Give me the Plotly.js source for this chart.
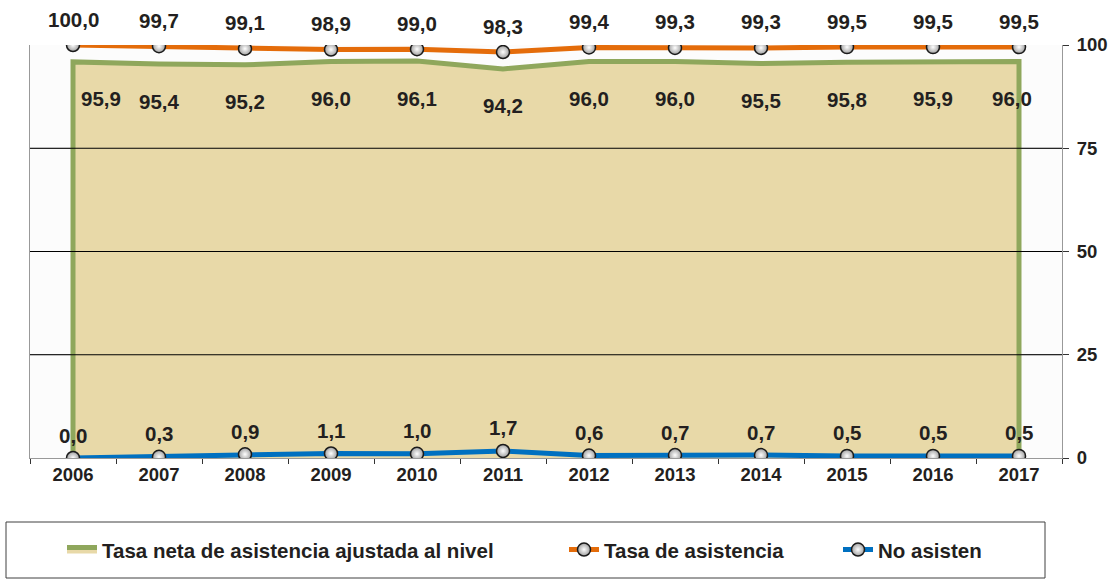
<!DOCTYPE html>
<html><head><meta charset="utf-8">
<script src="https://cdn.plot.ly/plotly-3.0.1.min.js"></script>
<style>html,body{margin:0;padding:0;background:#fff;}#chart{width:1114px;height:582px;}</style>
</head><body><div id="chart"></div>
<script>
const years = ['2006','2007','2008','2009','2010','2011','2012','2013','2014','2015','2016','2017'];
const tasaNeta = [95.9,95.4,95.2,96.0,96.1,94.2,96.0,96.0,95.5,95.8,95.9,96.0];
const tasaAsistencia = [100.0,99.7,99.1,98.9,99.0,98.3,99.4,99.3,99.3,99.5,99.5,99.5];
const noAsisten = [0.0,0.3,0.9,1.1,1.0,1.7,0.6,0.7,0.7,0.5,0.5,0.5];
const yTicks = [0,25,50,75,100];

const fmt = v => v.toFixed(1).replace('.', ',');
const FONT = 'Liberation Sans, Arial, sans-serif';
const TXT = '#231F20';

const areaX = [years[0]].concat(years, [years[years.length-1]]);
const areaY = [0].concat(tasaNeta, [0]);

const markerStyle = {size:13, color:'#a0a0a0', gradient:{type:'radial', color:'#ffffff'}, line:{color:'#1a1a1a', width:1.5}};

const traces = [
  {x: areaX, y: areaY, type:'scatter', mode:'lines', fill:'toself', fillcolor:'#E8D9A8',
   line:{color:'#8FA75C', width:5}, name:'Tasa neta de asistencia ajustada al nivel', legend:'legend', hoverinfo:'skip'},
  {x: years, y: tasaAsistencia, type:'scatter', mode:'lines+markers', line:{color:'#E46C0A', width:5},
   marker: markerStyle, name:'Tasa de asistencia', legend:'legend2'},
  {x: years, y: noAsisten, type:'scatter', mode:'lines+markers', line:{color:'#0070C0', width:5},
   marker: markerStyle, name:'No asisten', legend:'legend3'}
];

const annotations = [];
const lab = (xi, y, t, xs, ys) => ({x: xi, y: y, text:'<b>'+t+'</b>', xref:'x', yref:'y', showarrow:false, xshift:xs, yshift:ys,
  font:{family:FONT, size:20.5, color:TXT}});
years.forEach((yr, i) => {
  annotations.push(lab(i, tasaAsistencia[i], fmt(tasaAsistencia[i]), 0, 26));
  annotations.push(lab(i, noAsisten[i], fmt(noAsisten[i]), 0, 23));
  let xs = 0;
  if (i === 0) xs = 28;
  if (i === years.length-1) xs = -7;
  annotations.push(lab(i, tasaNeta[i], fmt(tasaNeta[i]), xs, -37));
});

const legendBase = {orientation:'h', xanchor:'left', yanchor:'middle', y:-0.222, bgcolor:'rgba(0,0,0,0)',
  font:{family:FONT, size:20.5, color:TXT, weight:'bold'}, itemwidth:30};

const gridShapes = [25,50,75].map(v => ({type:'line', xref:'paper', yref:'y', x0:0, x1:1, y0:v, y1:v,
  line:{color:'#000', width:1}, layer:'above'}));

const layout = {
  width:1114, height:582,
  margin:{l:30, r:52, t:45, b:124},
  paper_bgcolor:'#ffffff', plot_bgcolor:'#FCFCFC',
  showlegend:true,
  xaxis:{type:'category', range:[-0.5, 11.5], tickson:'boundaries', ticks:'outside', ticklen:5, tickcolor:'#333',
    showline:true, linecolor:'#999', linewidth:1, showgrid:false, zeroline:false,
    tickfont:{family:FONT, size:18.5, color:TXT, weight:'bold'}},
  yaxis:{range:[0,100], side:'right', tickvals:yTicks, ticktext:yTicks.map(String), ticks:'outside', ticklen:6, tickcolor:'#333',
    showline:true, linecolor:'#999', mirror:true, showgrid:true, gridcolor:'#999', gridwidth:1, zeroline:false,
    tickfont:{family:FONT, size:18.5, color:TXT, weight:'bold'}, ticklabelstandoff:4},
  legend: Object.assign({}, legendBase, {x:(62-30)/1032}),
  legend2: Object.assign({}, legendBase, {x:(564-30)/1032}),
  legend3: Object.assign({}, legendBase, {x:(838-30)/1032}),
  annotations: annotations,
  shapes: gridShapes.concat([
    {type:'rect', xref:'paper', yref:'paper', x0:(6-30)/1032, x1:(1045-30)/1032, y0:(458-578)/413, y1:(458-522)/413,
     line:{color:'#404040', width:1}, fillcolor:'rgba(0,0,0,0)', layer:'below'}
  ])
};

Plotly.newPlot('chart', traces, layout, {displayModeBar:false, staticPlot:true});
</script></body></html>
